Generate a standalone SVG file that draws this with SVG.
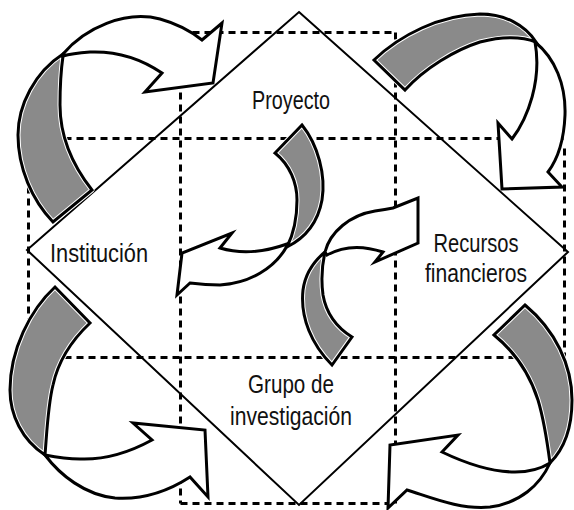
<svg xmlns="http://www.w3.org/2000/svg" width="574" height="510" viewBox="0 0 574 510">
<style>
.grid{fill:none;stroke:#000;stroke-width:3;stroke-dasharray:7 5}
.dia{fill:none;stroke:#000;stroke-width:2}
.rib{fill:#fff;stroke:#000;stroke-width:3;stroke-linejoin:miter;stroke-miterlimit:6}
.band{fill:#8a8a8a;stroke:#fff;stroke-width:5;stroke-linejoin:round}
.bando{fill:none;stroke:#000;stroke-width:3;stroke-linejoin:miter}
.lbl{font-family:"Liberation Sans",Arial,sans-serif;font-size:25px;fill:#111;text-anchor:middle}
</style>
<rect width="574" height="510" fill="#fff"/>
<g id="grid">
<line class="grid" x1="180.5" y1="32.5" x2="395.5" y2="32.5"/>
<line class="grid" x1="28.5" y1="138.5" x2="564.5" y2="138.5"/>
<line class="grid" x1="28.5" y1="357.5" x2="564.5" y2="357.5"/>
<line class="grid" x1="180.5" y1="503.5" x2="395.5" y2="503.5"/>
<line class="grid" x1="28.5" y1="138.5" x2="28.5" y2="357.5"/>
<line class="grid" x1="180.5" y1="32.5" x2="180.5" y2="503.5"/>
<line class="grid" x1="395.5" y1="32.5" x2="395.5" y2="503.5"/>
<line class="grid" x1="564.5" y1="148.5" x2="564.5" y2="357.5"/>
</g>
<g id="diamond">
<polygon class="dia" points="299,12 568,252 299,505 27,250"/>
</g>
<g id="connectors">
<g id="arrow-top-left">
<path class="band" d="M63,54 C35,72 18,105 18,135 C18,168 32,200 53,222 L92,190 C70,162 60,135 60,105 C60,85 61,70 63,56 Z"/>
<path class="bando" d="M63,54 C35,72 18,105 18,135 C18,168 32,200 53,222 L92,190 C70,162 60,135 60,105 C60,85 61,70 63,56 Z"/>
<path class="rib" d="M63,54 C85,28 125,10 160,19 C178,24 192,32 202,40 L222,23 L213,83 L145,92 L162,73 C140,58 115,51 90,52 C78,53 70,54 63,56 Z"/>
</g>
<g id="arrow-top-right">
<path class="band" d="M374,60 C400,35 440,15 480,14 C505,14 525,25 536,42 C520,36 500,37 480,42 C455,50 425,68 405,90 Z"/>
<path class="bando" d="M374,60 C400,35 440,15 480,14 C505,14 525,25 536,42 C520,36 500,37 480,42 C455,50 425,68 405,90 Z"/>
<path class="rib" d="M535,42 C555,58 566,85 565,115 C564,140 557,160 548,172 L562,187 L502,189 L498,123 L512,139 C528,118 542,80 535,42 Z"/>
</g>
<g id="arrow-bottom-left">
<path class="band" d="M55,287 C30,310 10,350 10,390 C10,415 22,440 45,455 C47,430 48,405 53,385 C58,362 72,340 90,323 Z"/>
<path class="bando" d="M55,287 C30,310 10,350 10,390 C10,415 22,440 45,455 C47,430 48,405 53,385 C58,362 72,340 90,323 Z"/>
<path class="rib" d="M45,455 C60,475 85,495 115,498 C145,500 170,490 190,477 L208,497 L205,430 L133,423 L152,440 C130,452 105,460 80,459 C65,459 55,457 45,455 Z"/>
</g>
<g id="arrow-bottom-right">
<path class="band" d="M525,305 C555,330 572,365 572,400 C572,425 565,448 550,463 C547,440 544,420 538,400 C530,375 515,352 494,335 Z"/>
<path class="bando" d="M525,305 C555,330 572,365 572,400 C572,425 565,448 550,463 C547,440 544,420 538,400 C530,375 515,352 494,335 Z"/>
<path class="rib" d="M550,463 C540,485 520,503 490,507 C460,510 430,497 407,490 L388,508 L390,445 L458,435 L442,452 C465,463 490,472 515,472 C530,472 542,468 550,463 Z"/>
</g>
<g id="arrow-center-left">
<path class="band" d="M302,125 C318,145 326,175 322,200 C318,222 305,238 287,247 C293,235 297,220 297,200 C297,183 290,165 275,153 Z"/>
<path class="bando" d="M302,125 C318,145 326,175 322,200 C318,222 305,238 287,247 C293,235 297,220 297,200 C297,183 290,165 275,153 Z"/>
<path class="rib" d="M287,246 C275,268 250,283 220,285 C208,285 198,284 190,283 L177,295 L182,253 L232,233 L220,248 C240,254 262,253 287,244 Z"/>
</g>
<g id="arrow-center-right">
<path class="band" d="M332,365 C312,345 300,318 303,290 C305,275 313,262 325,252 C322,265 321,280 323,295 C326,312 336,327 352,337 Z"/>
<path class="bando" d="M332,365 C312,345 300,318 303,290 C305,275 313,262 325,252 C322,265 321,280 323,295 C326,312 336,327 352,337 Z"/>
<path class="rib" d="M325,252 C330,232 350,215 375,211 C382,210 388,209 393,208 L418,198 L418,243 L375,262 L383,252 C365,246 345,245 327,255 Z"/>
</g>
</g>
<g id="node-proyecto"><text class="lbl" x="291" y="109" textLength="78" lengthAdjust="spacingAndGlyphs">Proyecto</text></g>
<g id="node-institucion"><text class="lbl" x="99" y="262" textLength="98" lengthAdjust="spacingAndGlyphs">Institución</text></g>
<g id="node-recursos"><text class="lbl" x="476" y="252" textLength="85" lengthAdjust="spacingAndGlyphs">Recursos</text><text class="lbl" x="476" y="282" textLength="102" lengthAdjust="spacingAndGlyphs">financieros</text></g>
<g id="node-grupo"><text class="lbl" x="291" y="393" textLength="86" lengthAdjust="spacingAndGlyphs">Grupo de</text><text class="lbl" x="291" y="425" textLength="122" lengthAdjust="spacingAndGlyphs">investigación</text></g>
</svg>
